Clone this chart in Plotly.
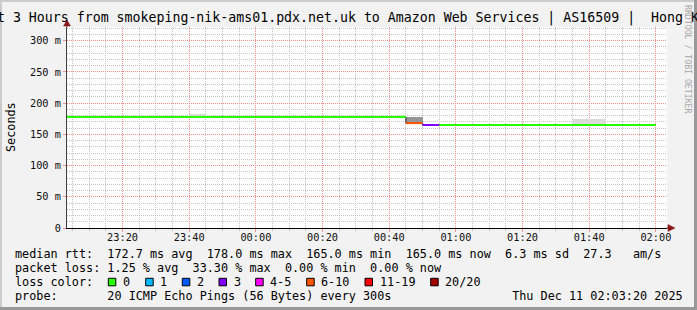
import plotly.graph_objects as go
from datetime import datetime, timedelta

# ---------------- data ----------------
bin_start = [
    "2025-12-10 23:00", "2025-12-10 23:05", "2025-12-10 23:10", "2025-12-10 23:15",
    "2025-12-10 23:20", "2025-12-10 23:25", "2025-12-10 23:30", "2025-12-10 23:35",
    "2025-12-10 23:40", "2025-12-10 23:45", "2025-12-10 23:50", "2025-12-10 23:55",
    "2025-12-11 00:00", "2025-12-11 00:05", "2025-12-11 00:10", "2025-12-11 00:15",
    "2025-12-11 00:20", "2025-12-11 00:25", "2025-12-11 00:30", "2025-12-11 00:35",
    "2025-12-11 00:40", "2025-12-11 00:45", "2025-12-11 00:50", "2025-12-11 00:55",
    "2025-12-11 01:00", "2025-12-11 01:05", "2025-12-11 01:10", "2025-12-11 01:15",
    "2025-12-11 01:20", "2025-12-11 01:25", "2025-12-11 01:30", "2025-12-11 01:35",
    "2025-12-11 01:40", "2025-12-11 01:45", "2025-12-11 01:50", "2025-12-11 01:55",
]
median_ms = [
    178.0, 178.0, 178.0, 178.0, 178.0, 178.0, 178.0, 178.0, 178.0, 178.0, 178.0, 178.0,
    178.0, 178.0, 178.0, 178.0, 178.0, 178.0, 178.0, 178.0, 178.0, 168.0, 165.0, 165.0,
    165.0, 165.0, 165.0, 165.0, 165.0, 165.0, 165.0, 165.0, 165.0, 165.0, 165.0, 165.0,
]
loss_pct = [
    0, 0, 0, 0, 0, 0, 0, 0, 0, 0, 0, 0,
    0, 0, 0, 0, 0, 0, 0, 0, 0, 33.3, 15.0, 0,
    0, 0, 0, 0, 0, 0, 0, 0, 0, 0, 0, 0,
]
smoke_start = ["2025-12-10 23:40", "2025-12-11 00:00", "2025-12-11 00:45",
               "2025-12-11 01:35", "2025-12-11 01:40"]
smoke_lo = [178.0, 178.0, 169.0, 165.0, 165.0]
smoke_hi = [182.0, 180.0, 178.5, 174.5, 174.5]

PINGS = 20
loss_classes = ["0", "1", "2", "3", "4-5", "6-10", "11-19", "20/20"]
loss_upper = [0, 1, 2, 3, 5, 10, 19, 20]

y_ticks = [0, 50, 100, 150, 200, 250, 300]
y_ticktext = ["0", "50 m", "100 m", "150 m", "200 m", "250 m", "300 m"]

title_text = "Last 3 Hours from smokeping-nik-ams01.pdx.net.uk to Amazon Web Services | AS16509 |\u00a0\u00a0Hong Kong"
legend_rows = [
    "median rtt:  172.7 ms avg  178.0 ms max  165.0 ms min  165.0 ms now  6.3 ms sd  27.3   am/s",
    "packet loss: 1.25 % avg  33.30 % max  0.00 % min  0.00 % now",
    "loss color:",
    "probe:       20 ICMP Echo Pings (56 Bytes) every 300s                 Thu Dec 11 02:03:20 2025",
]

# ---------------- styling ----------------
loss_colors = ["#26ff00", "#00b8ff", "#0059ff", "#7e00ff", "#ff00ff", "#ff5500", "#ff0000", "#a10000"]
MONO = "DejaVu Sans Mono"
W, H = 697, 310
L, R, T, B = 67, 30, 27, 82
PW, PH = W - L - R, H - T - B


def px(x):
    return (x - L) / PW


def py(y):
    return (H - B - y) / PH


fmt = "%Y-%m-%d %H:%M"
t = [datetime.strptime(s, fmt) for s in bin_start]
step = timedelta(minutes=5)
loss_at = dict(zip(t, loss_pct))


def loss_color(p):
    cnt = round(p * PINGS / 100.0)
    for up, c in zip(loss_upper, loss_colors):
        if cnt <= up:
            return c
    return loss_colors[-1]


fig = go.Figure()

# smoke
st = [datetime.strptime(s, fmt) for s in smoke_start]
fig.add_trace(go.Bar(
    x=[s + step / 2 for s in st],
    y=[h - l for l, h in zip(smoke_lo, smoke_hi)],
    base=smoke_lo,
    width=300000,
    marker=dict(color=["#969696" if loss_at.get(s, 0) > 0 else "#dadada" for s in st],
                line=dict(width=0)),
    hoverinfo="skip", showlegend=False,
))

# dark step outline of the median
fig.add_trace(go.Scatter(
    x=t + [t[-1] + step], y=median_ms + [median_ms[-1]],
    mode="lines", line=dict(shape="hv", color="#202020", width=1),
    hoverinfo="skip", showlegend=False,
))

# median coloured by loss
for c in loss_colors:
    xs, ys = [], []
    for ti, m, p in zip(t, median_ms, loss_pct):
        if loss_color(p) == c:
            xs += [ti, ti + step, None]
            ys += [m, m, None]
    if xs:
        fig.add_trace(go.Scatter(x=xs, y=ys, mode="lines",
                                 line=dict(color=c, width=2),
                                 hoverinfo="skip", showlegend=False))

GRID_MAJ = "#ee9090"
GRID_MIN = "#c4c4c4"
DASH = "1px,1px"

fig.update_xaxes(
    type="date",
    range=[datetime(2025, 12, 10, 23, 3, 20), datetime(2025, 12, 11, 2, 3, 20)],
    tickformat="%H:%M", tick0="2025-12-10 23:20", dtick=1200000,
    showgrid=True, gridcolor=GRID_MAJ, griddash=DASH, gridwidth=1,
    ticks="outside", ticklen=3, tickcolor=GRID_MAJ, ticklabelstandoff=-3,
    showline=True, linecolor="#000000", linewidth=1, zeroline=False,
    minor=dict(dtick=300000, tick0="2025-12-10 23:00", showgrid=True,
               gridcolor=GRID_MIN, griddash=DASH, ticks="outside", ticklen=2,
               tickcolor=GRID_MIN),
    tickfont=dict(family=MONO, size=10.3, color="#101010"),
    fixedrange=True,
)
fig.update_yaxes(
    range=[0, 322], tickvals=y_ticks, ticktext=y_ticktext,
    showgrid=True, gridcolor=GRID_MAJ, griddash=DASH, gridwidth=1,
    ticks="outside", ticklen=3, tickcolor=GRID_MAJ,
    showline=True, linecolor="#404040", linewidth=1, zeroline=False,
    minor=dict(dtick=10, showgrid=True, gridcolor=GRID_MIN, griddash=DASH),
    tickfont=dict(family=MONO, size=10.3, color="#101010"),
    fixedrange=True,
)

ann = []
ann.append(dict(text=title_text, x=px(347.5), y=py(18.5), xref="paper", yref="paper",
                xanchor="center", yanchor="middle", showarrow=False,
                font=dict(family=MONO, size=13.25, color="#000000")))
ann.append(dict(text="Seconds", x=px(10.5), y=py(127.5), xref="paper", yref="paper",
                xanchor="center", yanchor="middle", textangle=-90, showarrow=False,
                font=dict(family=MONO, size=11.8, color="#000000")))
ann.append(dict(text="RRDTOOL / TOBI OETIKER", x=px(688), y=py(59), xref="paper", yref="paper",
                xanchor="center", yanchor="middle", textangle=90, showarrow=False,
                font=dict(family=MONO, size=8.2, color="#a8a8a8")))
row_y = [254, 268, 282, 296]
for txt, yy in zip(legend_rows, row_y):
    ann.append(dict(text=txt.replace(" ", "\u00a0"), x=px(15), y=py(yy), xref="paper", yref="paper",
                    xanchor="left", yanchor="middle", showarrow=False, borderpad=0, borderwidth=0,
                    font=dict(family=MONO, size=11.8, color="#000000")))

box_x = [108.3, 145.7, 182.3, 219.0, 255.7, 306.7, 365.0, 430.7]
shapes = []
for bx, lab, col in zip(box_x, loss_classes, loss_colors):
    shapes.append(dict(type="rect", xref="paper", yref="paper",
                       x0=px(bx), x1=px(bx + 7.5), y0=py(278.3), y1=py(285.8),
                       fillcolor=col, line=dict(color="#000000", width=1)))
    ann.append(dict(text=lab, x=px(bx + 14.5), y=py(282), xref="paper", yref="paper",
                    xanchor="left", yanchor="middle", showarrow=False, borderpad=0, borderwidth=0,
                    font=dict(family=MONO, size=11.8, color="#000000")))

# frame (3D border)
shapes += [
    dict(type="rect", xref="paper", yref="paper", x0=px(0), x1=px(W), y0=py(0), y1=py(2),
         fillcolor="#cbcbcb", line=dict(width=0), layer="above"),
    dict(type="rect", xref="paper", yref="paper", x0=px(0), x1=px(2), y0=py(0), y1=py(H),
         fillcolor="#cbcbcb", line=dict(width=0), layer="above"),
    dict(type="rect", xref="paper", yref="paper", x0=px(0), x1=px(W), y0=py(H - 3), y1=py(H),
         fillcolor="#999999", line=dict(width=0), layer="above"),
    dict(type="rect", xref="paper", yref="paper", x0=px(W - 3), x1=px(W), y0=py(0), y1=py(H),
         fillcolor="#999999", line=dict(width=0), layer="above"),
]
ARROW = "#8b1a1a"
# axis extensions & arrows
shapes += [
    dict(type="line", xref="paper", yref="paper", x0=1, x1=px(670), y0=0, y1=0,
         line=dict(color="#000000", width=1), layer="above"),
    dict(type="line", xref="paper", yref="paper", x0=0, x1=0, y0=1, y1=py(22),
         line=dict(color="#404040", width=1), layer="above"),
    dict(type="path", xref="paper", yref="paper",
         path=f"M {px(668)} {py(224.5)} L {px(675)} {py(228)} L {px(668)} {py(231.5)} Z",
         fillcolor=ARROW, line=dict(color=ARROW, width=0.5), layer="above"),
    dict(type="path", xref="paper", yref="paper",
         path=f"M {px(63.5)} {py(26)} L {px(67)} {py(20)} L {px(70.5)} {py(26)} Z",
         fillcolor=ARROW, line=dict(color=ARROW, width=0.5), layer="above"),
]

fig.update_layout(
    width=W, height=H, autosize=False,
    margin=dict(l=L, r=R, t=T, b=B, pad=0),
    paper_bgcolor="#f2f2f2", plot_bgcolor="#ffffff",
    barmode="overlay", bargap=0,
    showlegend=False,
    annotations=ann, shapes=shapes,
    font=dict(family=MONO),
)

fig.write_html("out.html", config={"displayModeBar": False})
